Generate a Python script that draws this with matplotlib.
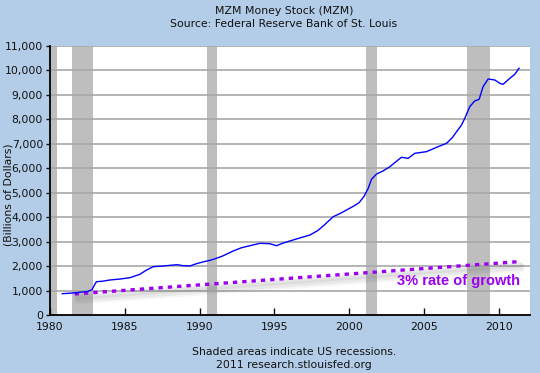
import matplotlib
matplotlib.use('Agg')
import matplotlib.pyplot as plt
import matplotlib.transforms as mtransforms
from matplotlib.ticker import FuncFormatter

# MZM money stock, billions of dollars
years = [1980.82, 1981.5, 1982.0, 1982.5, 1982.8, 1982.95, 1983.1, 1983.5, 1984.0, 1984.68,
         1985.35, 1986.0, 1986.46, 1986.9, 1987.5, 1988.0, 1988.5, 1988.9, 1989.36, 1989.8,
         1990.3, 1990.7, 1990.92, 1991.5, 1992.25, 1992.8, 1993.37, 1994.04, 1994.7, 1995.15,
         1995.5, 1996.04, 1996.7, 1997.38, 1997.9, 1998.27, 1998.94, 1999.4, 1999.83, 2000.3,
         2000.67, 2001.0, 2001.28, 2001.5, 2001.84, 2002.3, 2002.73, 2003.1, 2003.5, 2003.95,
         2004.4, 2005.18, 2005.85, 2006.52, 2006.9, 2007.19, 2007.5, 2007.74, 2008.07, 2008.4,
         2008.7, 2008.96, 2009.3, 2009.75, 2010.08, 2010.3, 2010.75, 2011.08, 2011.37]
mzm = [871, 900, 930, 960, 1030, 1200, 1362, 1380, 1431, 1470,
       1527, 1660, 1840, 1976, 2000, 2030, 2057, 2017, 2004, 2100,
       2180, 2236, 2277, 2400, 2617, 2750, 2834, 2932, 2916, 2834,
       2920, 3026, 3150, 3271, 3450, 3639, 4020, 4150, 4294, 4450,
       4593, 4850, 5180, 5550, 5766, 5900, 6066, 6250, 6448, 6408,
       6612, 6680, 6857, 7020, 7250, 7497, 7750, 8043, 8518, 8751,
       8820, 9336, 9650, 9610, 9474, 9433, 9679, 9843, 10088]

# 3% growth trend line endpoints
trend_years = [1981.65, 2011.3]
trend_vals = [860, 2180]

# US recessions (start, end)
recessions = [(1980.0, 1980.5), (1981.45, 1982.85), (1990.5, 1991.17),
              (2001.15, 2001.85), (2007.9, 2009.4)]

bg = '#B3CDE8'
fs = 7.8
fig = plt.figure(figsize=(5.4, 3.73), dpi=100)
fig.patch.set_facecolor(bg)
ax = fig.add_axes([50/540, 58/373, 480/540, 269/373])
ax.set_facecolor('white')

for s, e in recessions:
    ax.axvspan(s, e, color='#BEBEBE', lw=0, zorder=1)

ax.set_yticks(range(0, 11001, 1000))
for v in range(1000, 11001, 1000):
    ax.axhline(v, color='#A8A8A8', lw=1.2, zorder=2)

# drop shadow under the trend line
for dy, a, w in [(-3, 0.08, 4), (-5, 0.08, 5), (-7, 0.05, 5)]:
    tr = mtransforms.offset_copy(ax.transData, fig=fig, x=3/100, y=dy/100, units='inches')
    ax.plot(trend_years, trend_vals, color='#555555', lw=w, alpha=a,
            solid_capstyle='round', transform=tr, zorder=3)

ax.plot(trend_years, trend_vals, color='#9B00F0', lw=2.4, zorder=4,
        linestyle=(0, (1.3, 1.5)), dash_capstyle='butt')

ax.plot(years, mzm, color='#0000FF', lw=1.0, zorder=5)

ax.text(2011.4, 1390, '3% rate of growth', color='#9B00F0', fontsize=10.5,
        fontweight='bold', family='Liberation Sans', ha='right', va='center', zorder=6)

ax.set_xlim(1980, 2012.1)
ax.set_ylim(0, 11000)
ax.set_xticks(range(1980, 2011, 5))
ax.yaxis.set_major_formatter(FuncFormatter(lambda v, p: f'{int(v):,}'))

for sp in ['top', 'right']:
    ax.spines[sp].set_visible(False)
for sp in ['left', 'bottom']:
    ax.spines[sp].set_linewidth(1.3)
    ax.spines[sp].set_zorder(7)
ax.tick_params(axis='x', direction='in', length=5, width=1, labelsize=fs, pad=5, colors='#111111')
ax.tick_params(axis='y', direction='out', length=3, width=1, labelsize=fs, pad=2, colors='#111111')

fig.text(284/540, 1 - 11/373, 'MZM Money Stock (MZM)', ha='center', va='center', fontsize=fs, color='#111111')
fig.text(284/540, 1 - 24/373, 'Source: Federal Reserve Bank of St. Louis', ha='center', va='center', fontsize=fs, color='#111111')
fig.text(9/540, 1 - 195/373, '(Billions of Dollars)', rotation=90, ha='center', va='center', fontsize=fs, color='#111111')
fig.text(294/540, 1 - 352/373, 'Shaded areas indicate US recessions.', ha='center', va='center', fontsize=fs, color='#111111')
fig.text(294/540, 1 - 365/373, '2011 research.stlouisfed.org', ha='center', va='center', fontsize=fs, color='#111111')

fig.savefig('out.png', dpi=100, facecolor=bg)
